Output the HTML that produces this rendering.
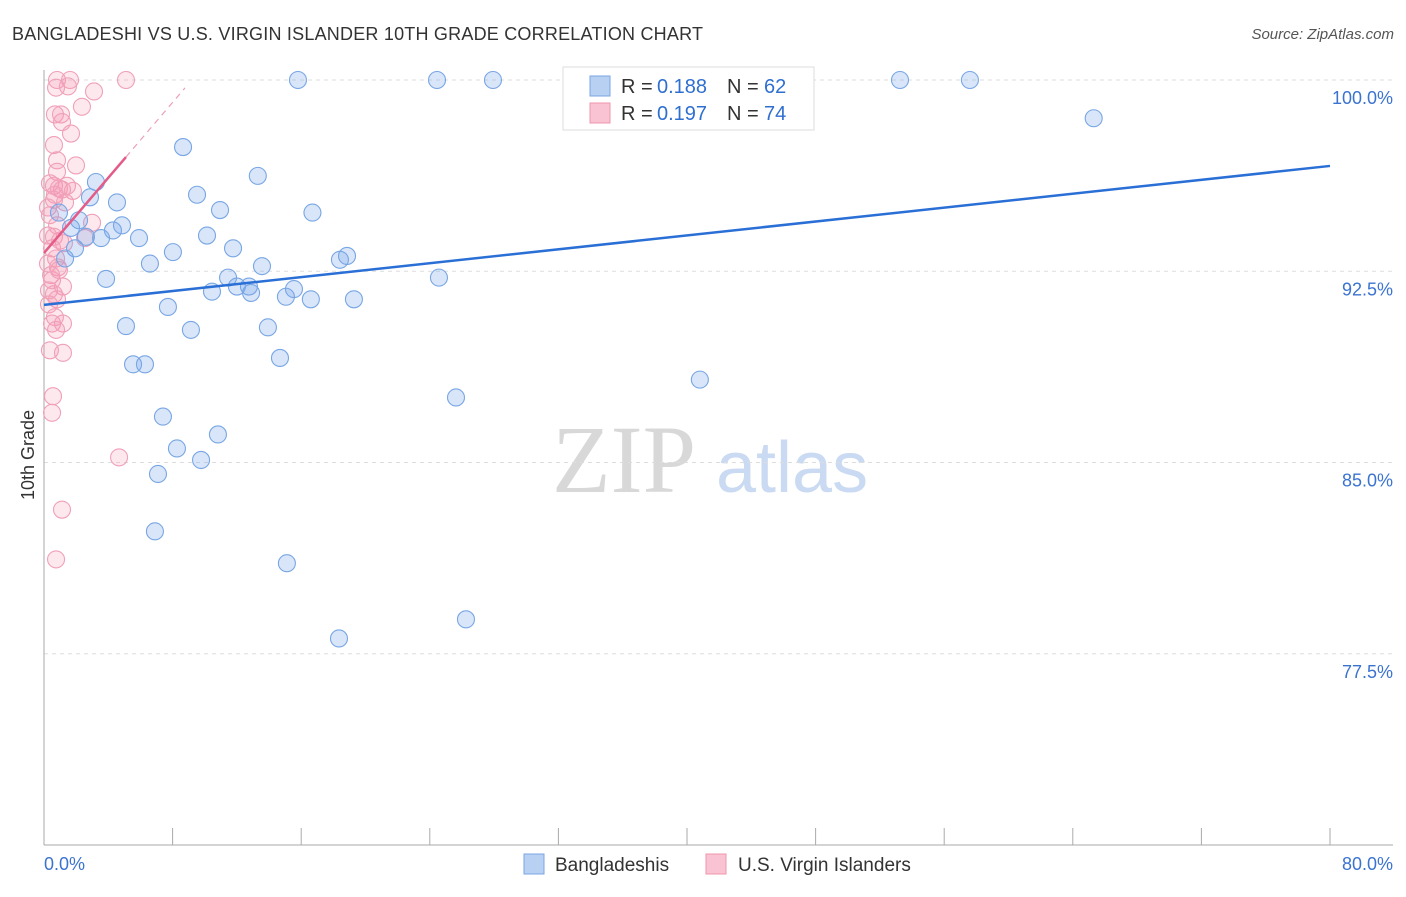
<!DOCTYPE html>
<html><head><meta charset="utf-8"><style>
body{margin:0;background:#fff;font-family:"Liberation Sans",sans-serif}
svg text{font-family:"Liberation Sans",sans-serif}
</style></head><body>
<svg id="chart" width="1406" height="892" viewBox="0 0 1406 892" xmlns="http://www.w3.org/2000/svg">
<text x="12" y="40" font-size="18" fill="#333" textLength="691">BANGLADESHI VS U.S. VIRGIN ISLANDER 10TH GRADE CORRELATION CHART</text>
<text x="1394" y="39" font-size="15" fill="#555" text-anchor="end" font-style="italic">Source: ZipAtlas.com</text>
<g>
<text x="552" y="492" font-size="96" fill="#d8d8d8" font-family="Liberation Serif" style="font-family:'Liberation Serif',serif">ZIP</text>
<text x="716" y="492" font-size="72" fill="#c9daf2">atlas</text>
</g>
<g id="grid"></g>
<g id="axes"></g>
<text transform="translate(34,455) rotate(-90)" font-size="18" fill="#333" text-anchor="middle">10th Grade</text>
<g id="pink"></g>
<g id="blue"></g>
<g id="lines"></g>
<g>
<rect x="563" y="67" width="251" height="63" fill="#fff" stroke="#ddd"/>
<rect x="590" y="76" width="20" height="20" fill="#b8d1f3" stroke="#7aa5e4"/>
<text x="621" y="93" font-size="20" fill="#333">R = </text><text x="657" y="93" font-size="20" fill="#2f6fd0">0.188</text>
<text x="727" y="93" font-size="20" fill="#333">N = </text><text x="764" y="93" font-size="20" fill="#2f6fd0">62</text>
<rect x="590" y="103" width="20" height="20" fill="#f9c3d3" stroke="#ef94ae"/>
<text x="621" y="120" font-size="20" fill="#333">R = </text><text x="657" y="120" font-size="20" fill="#2f6fd0">0.197</text>
<text x="727" y="120" font-size="20" fill="#333">N = </text><text x="764" y="120" font-size="20" fill="#2f6fd0">74</text>
</g>
<g>
<rect x="524" y="854" width="20" height="20" fill="#b8d1f3" stroke="#7aa5e4"/>
<text x="555" y="871" font-size="19" fill="#333">Bangladeshis</text>
<rect x="706" y="854" width="20" height="20" fill="#f9c3d3" stroke="#ef94ae"/>
<text x="738" y="871" font-size="19" fill="#333">U.S. Virgin Islanders</text>
</g>
</svg>
<script>
const yTicks=[100,92.5,85,77.5];
const yTickLabels=["100.0%","92.5%","85.0%","77.5%"];
const blueX=[15.8,24.45,27.93,53.25,57.6,65.3,8.65,13.3,3.23,9.52,4.54,2.86,10.95,16.7,0.93,2.18,4.85,4.29,1.68,2.61,3.55,5.91,10.14,11.76,8.02,1.93,1.31,6.59,13.56,18.41,18.85,3.86,11.45,24.57,10.45,12.0,12.75,12.88,15.05,15.55,16.6,19.28,7.71,5.1,9.14,13.93,14.68,5.54,6.28,40.8,25.63,7.4,10.82,8.27,9.77,7.09,6.9,15.11,26.25,18.35];
const blueY=[100,100,100,100,100,98.5,97.37,96.24,96.0,95.5,95.2,95.4,94.9,94.8,94.8,94.5,94.3,94.1,94.2,93.85,93.8,93.8,93.9,93.4,93.25,93.4,93.0,92.8,92.7,92.95,93.1,92.2,92.25,92.25,91.7,91.9,91.9,91.65,91.5,91.8,91.4,91.4,91.1,90.35,90.2,90.3,89.1,88.85,88.85,88.25,87.55,86.8,86.1,85.55,85.1,84.55,82.3,81.05,78.85,78.1];
const pinkX=[0.81,1.62,5.1,0.75,1.49,3.11,2.36,0.68,1.06,1.12,1.68,0.62,0.81,1.99,0.81,0.37,0.62,0.93,1.12,1.43,1.8,0.68,0.25,0.37,2.99,0.81,0.25,0.62,1.0,1.24,2.55,0.5,0.75,0.25,0.87,0.44,1.18,0.31,0.62,0.81,0.31,0.68,0.5,1.18,0.75,0.37,1.18,0.56,0.5,4.67,1.12,0.75,0.62,1.31,0.5,0.93];
const pinkY=[100,100,100,99.7,99.75,99.55,98.95,98.65,98.65,98.35,97.9,97.45,96.85,96.65,96.4,95.95,95.85,95.75,95.7,95.85,95.65,95.5,95.0,94.7,94.4,94.3,93.9,93.85,93.7,93.6,93.8,93.4,93.0,92.8,92.65,92.35,91.9,91.75,91.6,91.4,91.2,90.7,90.45,90.45,90.2,89.4,89.3,87.6,86.95,85.2,83.15,81.2,95.3,95.2,92.15,92.55];
const blueTrend=[[0,91.18],[80,96.63]];
const pinkTrendSolid=[[0,93.22],[5.1,96.98]];
const pinkTrendDash=[[5.1,96.98],[8.77,99.69]];
const X=v=>44+v*16.075;
const Y=v=>80+(100-v)*25.5;
const NS="http://www.w3.org/2000/svg";
function mk(t,p,a){const e=document.createElementNS(NS,t);for(const k in a)e.setAttribute(k,a[k]);p.appendChild(e);return e;}
const grid=document.getElementById('grid');
yTicks.forEach((t,i)=>{
  const l=mk('line',grid,{x1:44,x2:1393,y1:Y(t),y2:Y(t),stroke:'#ddd','stroke-dasharray':'4,4'});
  
  
  const tx=mk('text',grid,{x:1393,y:Y(t)+24,'font-size':18,fill:'#3b73d0','text-anchor':'end'});
  tx.textContent=yTickLabels[i];
  
  
});
const axes=document.getElementById('axes');
mk('line',axes,{x1:44,x2:44,y1:70,y2:845,stroke:'#aaa'});
const xa=mk('line',axes,{x1:44,x2:1393,y1:845,y2:845,stroke:'#aaa'});


for(let i=1;i<=10;i++){mk('line',axes,{x1:X(i*8),x2:X(i*8),y1:828,y2:845,stroke:'#aaa'});}
const x0=mk('text',axes,{x:44,y:870,'font-size':18,fill:'#3b73d0'});x0.textContent='0.0%';


const x1=mk('text',axes,{x:1393,y:870,'font-size':18,fill:'#3b73d0','text-anchor':'end'});x1.textContent='80.0%';


const pg=document.getElementById('pink');
pinkX.forEach((v,i)=>{const c=mk('circle',pg,{cx:X(v),cy:Y(pinkY[i]),r:8.5,fill:'rgba(244,150,178,0.22)',stroke:'#f0a0b8','stroke-width':1.1});

});
const bg=document.getElementById('blue');
blueX.forEach((v,i)=>{const c=mk('circle',bg,{cx:X(v),cy:Y(blueY[i]),r:8.5,fill:'rgba(120,165,235,0.28)',stroke:'#78a6e4','stroke-width':1.1});

});
const lg=document.getElementById('lines');
const b=mk('line',lg,{x1:X(blueTrend[0][0]),y1:Y(blueTrend[0][1]),x2:X(blueTrend[1][0]),y2:Y(blueTrend[1][1]),stroke:'#2a6fd6','stroke-width':2.5});


const p=mk('line',lg,{x1:X(pinkTrendSolid[0][0]),y1:Y(pinkTrendSolid[0][1]),x2:X(pinkTrendSolid[1][0]),y2:Y(pinkTrendSolid[1][1]),stroke:'#e45b88','stroke-width':2.5});


const pd=mk('line',lg,{x1:X(pinkTrendDash[0][0]),y1:Y(pinkTrendDash[0][1]),x2:X(pinkTrendDash[1][0]),y2:Y(pinkTrendDash[1][1]),stroke:'#eba0b8','stroke-width':1.2,'stroke-dasharray':'6,5'});


</script>
</body></html>
